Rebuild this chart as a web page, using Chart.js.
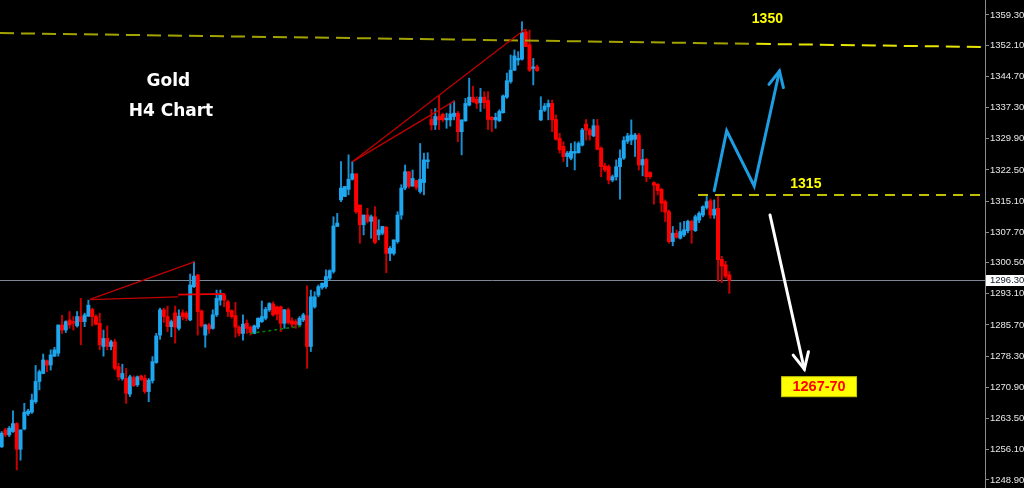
<!DOCTYPE html>
<html><head><meta charset="utf-8">
<script src="https://cdn.jsdelivr.net/npm/chart.js@4.4.1/dist/chart.umd.min.js"></script>
<style>html,body{margin:0;padding:0;background:#000;overflow:hidden}canvas{display:block}</style>
</head><body><canvas id="c" width="1024" height="488"></canvas>
<script>
// ---- Data (H4 Gold candles) ----
const opens=[1256.8,1260.8,1259.6,1260.4,1262.3,1256.2,1261.0,1264.6,1265.0,1267.5,
1272.3,1274.2,1277.2,1276.2,1278.3,1279.0,1285.7,1284.5,1286.9,1286.5,
1285.5,1287.7,1286.5,1287.8,1289.4,1287.7,1286.1,1280.6,1282.5,1280.6,
1281.7,1275.8,1273.0,1273.0,1269.3,1273.2,1271.5,1273.6,1273.0,1269.9,
1272.5,1276.8,1283.3,1289.3,1287.7,1285.3,1288.6,1284.9,1288.6,1288.5,
1286.9,1294.8,1297.6,1289.0,1283.3,1285.7,1284.9,1288.1,1291.6,1292.8,
1291.2,1289.1,1287.9,1285.2,1283.7,1286.1,1285.2,1283.7,1285.2,1286.5,
1287.3,1289.3,1290.7,1290.0,1290.0,1286.1,1289.3,1286.7,1286.5,1285.7,
1286.9,1287.9,1280.6,1290.0,1292.8,1294.6,1294.8,1296.8,1298.4,1309.1,
1315.4,1316.2,1317.9,1320.3,1321.6,1314.2,1309.5,1311.8,1310.3,1311.4,
1307.1,1307.5,1308.9,1302.7,1302.7,1305.5,1311.8,1318.2,1322.1,1318.7,
1320.0,1317.4,1319.5,1324.5,1334.5,1333.2,1335.2,1335.7,1334.4,1334.4,
1335.2,1336.0,1331.6,1334.2,1337.9,1339.8,1339.3,1338.5,1339.8,1339.0,
1335.0,1334.4,1334.2,1336.1,1339.8,1343.5,1346.2,1348.6,1348.8,1355.3,
1352.2,1346.6,1347.0,1334.4,1336.7,1337.5,1338.3,1334.5,1330.0,1328.1,
1325.7,1325.3,1326.5,1326.6,1328.4,1333.4,1332.0,1330.6,1333.0,1327.7,
1323.5,1323.3,1320.1,1320.9,1323.3,1325.3,1329.3,1329.6,1329.8,1330.8,
1323.7,1325.0,1321.9,1319.5,1319.1,1317.9,1315.0,1312.6,1305.5,1307.5,
1306.3,1307.1,1308.1,1310.3,1308.1,1310.6,1311.8,1313.6,1315.2,1311.8,
1313.4,1301.3,1300.0,1297.6];
const highs=[1260.4,1261.2,1261.6,1265.3,1262.5,1260.8,1267.1,1265.7,1269.3,1276.1,
1275.0,1278.8,1277.4,1279.8,1280.4,1285.7,1288.0,1286.7,1288.9,1287.7,
1288.9,1292.0,1288.5,1291.6,1289.7,1288.1,1288.5,1284.5,1285.5,1282.1,
1282.3,1276.6,1276.4,1275.4,1273.8,1273.6,1273.6,1273.8,1273.8,1273.0,
1278.2,1283.7,1289.7,1289.7,1290.2,1286.9,1290.2,1289.3,1289.3,1288.9,
1297.8,1300.7,1297.7,1289.3,1285.9,1286.1,1289.3,1294.0,1294.0,1293.2,
1291.6,1289.3,1291.1,1285.5,1288.1,1286.9,1285.5,1285.7,1287.4,1291.4,
1289.9,1291.0,1291.2,1290.2,1290.2,1289.4,1289.7,1287.4,1287.0,1287.7,
1288.5,1295.0,1294.0,1293.6,1295.2,1295.7,1298.8,1298.8,1311.4,1312.2,
1324.5,1318.6,1326.1,1324.5,1321.6,1314.2,1311.8,1313.4,1311.8,1313.8,
1310.7,1309.1,1309.1,1304.3,1305.9,1312.6,1319.0,1323.7,1322.1,1322.5,
1320.1,1328.8,1326.5,1326.6,1336.9,1337.1,1340.1,1336.0,1336.0,1338.3,
1338.9,1336.4,1334.4,1339.5,1344.3,1342.4,1339.9,1341.9,1341.1,1341.1,
1335.2,1336.0,1336.8,1340.3,1345.5,1349.8,1351.0,1350.6,1357.7,1355.9,
1355.7,1349.0,1347.4,1339.9,1338.3,1339.1,1339.1,1335.6,1331.2,1329.2,
1326.9,1328.8,1329.2,1329.2,1332.4,1334.5,1332.4,1334.5,1334.5,1328.0,
1324.1,1323.7,1321.3,1324.9,1327.3,1330.4,1331.2,1334.4,1331.2,1331.2,
1327.4,1325.3,1322.1,1319.7,1319.3,1318.2,1315.4,1313.0,1309.1,1308.3,
1310.0,1310.3,1310.6,1310.6,1311.8,1312.6,1314.0,1316.2,1315.6,1315.4,
1316.2,1302.0,1300.8,1298.4];
const lows=[1256.6,1259.2,1259.2,1260.2,1251.3,1253.6,1260.8,1264.2,1264.7,1267.1,
1270.3,1274.1,1274.6,1275.0,1278.2,1278.3,1283.7,1283.9,1284.9,1284.5,
1285.2,1281.0,1285.3,1287.7,1285.5,1285.7,1279.8,1278.3,1279.8,1279.8,
1275.0,1272.6,1272.6,1267.1,1268.7,1271.1,1271.1,1272.5,1269.5,1267.5,
1271.9,1276.6,1282.3,1286.3,1284.1,1282.9,1281.4,1284.5,1286.9,1286.7,
1286.7,1294.6,1283.3,1285.2,1280.4,1283.7,1284.7,1287.7,1290.4,1290.0,
1287.7,1287.3,1282.8,1283.1,1282.1,1283.7,1283.3,1283.6,1284.8,1286.3,
1286.9,1288.9,1287.8,1286.9,1284.1,1284.9,1285.9,1285.2,1284.9,1285.5,
1286.5,1275.4,1279.4,1289.7,1292.4,1294.2,1294.4,1296.4,1298.0,1309.1,
1315.0,1316.2,1316.6,1320.1,1312.2,1305.1,1307.1,1309.9,1306.3,1305.0,
1305.9,1307.1,1298.1,1301.0,1302.3,1305.1,1310.8,1317.8,1318.2,1318.6,
1317.8,1317.0,1316.6,1322.9,1332.0,1332.1,1332.1,1334.0,1332.4,1332.9,
1334.4,1329.2,1326.1,1334.0,1337.7,1338.5,1337.1,1336.4,1337.1,1332.1,
1331.6,1332.4,1334.0,1336.0,1339.5,1343.1,1346.1,1347.4,1348.6,1351.8,
1345.9,1342.7,1345.9,1334.2,1336.4,1334.4,1331.6,1329.6,1326.5,1324.5,
1323.3,1324.9,1322.5,1326.5,1328.2,1329.6,1329.6,1330.4,1327.3,1320.9,
1322.1,1319.2,1319.7,1320.1,1315.6,1325.0,1328.8,1328.5,1325.7,1322.5,
1321.1,1319.7,1320.5,1314.4,1316.6,1312.6,1310.2,1305.1,1304.5,1306.3,
1306.1,1306.7,1307.6,1305.1,1307.9,1310.0,1311.4,1313.2,1311.0,1311.0,
1296.0,1295.8,1296.8,1293.2];
const closes=[1260.0,1259.6,1261.2,1262.3,1256.2,1260.8,1265.0,1265.3,1267.9,1272.3,
1274.6,1277.4,1276.2,1278.6,1279.8,1285.7,1284.5,1286.5,1285.7,1286.1,
1287.7,1286.5,1288.1,1290.4,1287.7,1285.9,1281.0,1282.5,1280.6,1281.7,
1275.4,1273.4,1274.2,1269.5,1273.4,1271.3,1273.4,1272.8,1269.9,1272.6,
1277.0,1283.1,1289.3,1287.7,1285.3,1286.5,1285.2,1287.8,1287.7,1287.3,
1295.2,1297.3,1288.9,1285.5,1285.7,1284.7,1288.1,1292.0,1292.8,1291.6,
1288.9,1287.7,1285.2,1283.7,1285.9,1284.9,1283.9,1285.5,1287.3,1287.7,
1289.4,1290.8,1288.1,1288.3,1286.1,1289.3,1286.3,1285.9,1285.9,1287.3,
1288.1,1280.6,1292.4,1292.4,1294.8,1295.6,1297.2,1298.6,1309.2,1309.9,
1318.2,1318.6,1320.3,1321.6,1312.6,1309.5,1311.8,1310.3,1311.4,1305.3,
1308.3,1309.1,1302.7,1303.9,1305.9,1311.8,1318.2,1322.1,1318.6,1320.5,
1318.4,1320.3,1324.9,1324.9,1333.2,1335.2,1334.4,1334.4,1334.8,1335.8,
1336.0,1331.6,1334.4,1338.3,1339.8,1338.7,1338.3,1339.8,1338.5,1334.5,
1334.4,1335.0,1336.4,1340.1,1343.7,1346.2,1349.6,1349.0,1355.1,1351.8,
1346.2,1347.0,1346.1,1336.7,1337.7,1338.3,1334.4,1329.8,1327.3,1325.7,
1326.5,1326.9,1326.9,1328.8,1332.0,1332.0,1330.8,1333.0,1327.4,1323.3,
1322.5,1320.1,1320.9,1323.3,1325.3,1329.5,1330.6,1330.8,1330.8,1323.7,
1325.0,1320.9,1320.9,1318.9,1317.6,1314.6,1312.5,1305.5,1307.5,1306.5,
1307.9,1308.3,1310.3,1308.3,1311.4,1312.2,1313.8,1315.0,1311.8,1313.2,
1301.2,1299.7,1297.3,1296.3];
const priceTicks=[1359.3,1352.1,1344.7,1337.3,1329.9,1322.5,1315.1,1307.7,1300.5,1293.1,1285.7,1278.3,1270.9,1263.5,1256.1,1248.9];
const lastPrice=1296.3;
const yMin=1247.0, yMax=1362.86;
const xMin=-0.45, xMax=260.82;

// drawn objects in (bar index, price)
const topLineOlive=[[-0.45,1355.0],[200.3,1352.45]];
const topLineYellow=[[200.3,1352.45],[260.82,1351.7]];
const line1315=[[184.7,1316.55],[260.82,1316.55]];
const redTrendDark=[[[23.4,1291.8],[51.1,1300.7]],[[23.4,1291.7],[46.8,1292.4]],[[93.1,1324.5],[138.8,1355.9]],[[93.1,1324.5],[120.1,1338.9]]];
const redTrendBright=[[46.8,1292.9],[59.0,1293.1],[59.2,1292.6]];
const greenDashed=[[66.0,1283.7],[79.6,1285.45]];
const blueZigzag=[[189.0,1317.6],[192.3,1331.8],[199.6,1318.7],[206.3,1346.0]];
const whiteArrow=[[203.8,1311.8],[212.9,1275.2]];
const textLabels=[
  {t:'Gold',at:[44.2,1343.6],font:'bold 17px "DejaVu Sans"',color:'#ffffff'},
  {t:'H4 Chart',at:[44.9,1336.3],font:'bold 17px "DejaVu Sans"',color:'#ffffff'},
  {t:'1350',at:[203.1,1358.2],font:'bold 14px "Liberation Sans"',color:'#ffff00'},
  {t:'1315',at:[213.3,1319.05],font:'bold 14px "Liberation Sans"',color:'#ffff00'}
];
const targetBox={t:'1267-70',at:[216.8,1271.05]};

const UP='#1ea6ef', UPW='#1a8fd2', DN='#ff0000', DNW='#c80000';
const isUp=i=>closes[i]>=opens[i];

const overlay={
  id:'overlay',
  beforeDatasetsDraw(chart){
    const {ctx,scales:{x,y},chartArea:a}=chart;
    ctx.save();
    ctx.strokeStyle='#7d8894'; ctx.lineWidth=1;
    const py=Math.round(y.getPixelForValue(lastPrice))+0.5;
    ctx.beginPath(); ctx.moveTo(a.left,py); ctx.lineTo(a.right,py); ctx.stroke();
    ctx.restore();
  },
  afterDatasetsDraw(chart){
    const {ctx,scales:{x,y},chartArea:a}=chart;
    const P=p=>[x.getPixelForValue(p[0]),y.getPixelForValue(p[1])];
    const poly=(pts,color,w,dash)=>{
      ctx.strokeStyle=color; ctx.lineWidth=w; ctx.setLineDash(dash||[]);
      ctx.beginPath(); pts.map(P).forEach((q,i)=>i?ctx.lineTo(q[0],q[1]):ctx.moveTo(q[0],q[1])); ctx.stroke();
      ctx.setLineDash([]);
    };
    const arrow=(pts,color,w,len,spread)=>{
      poly(pts,color,w);
      const q=pts.map(P); const [x1,y1]=q[q.length-2],[x2,y2]=q[q.length-1];
      const ang=Math.atan2(y2-y1,x2-x1);
      ctx.strokeStyle=color; ctx.lineWidth=w; ctx.lineJoin='miter';
      ctx.beginPath();
      ctx.moveTo(x2-len*Math.cos(ang-spread),y2-len*Math.sin(ang-spread));
      ctx.lineTo(x2,y2);
      ctx.lineTo(x2-len*Math.cos(ang+spread),y2-len*Math.sin(ang+spread));
      ctx.stroke();
    };
    ctx.save();
    ctx.beginPath(); ctx.rect(a.left,a.top,a.width,a.height); ctx.clip();
    poly(topLineOlive,'#a3a300',2,[14,7]);
    poly(topLineYellow,'#e6e600',2,[14,7]);
    poly(line1315,'#ffff00',1.5,[10,7]);
    redTrendDark.forEach(l=>poly(l,'#c00000',1.3));
    poly(redTrendBright,'#e80000',1.6);
    poly(greenDashed,'#008000',1.6,[3,3]);
    ctx.lineCap='round';
    arrow(blueZigzag,'#1e9de3',3,17,0.45);
    arrow(whiteArrow,'#ffffff',3,18,0.45);
    ctx.lineCap='butt';
    ctx.textAlign='center'; ctx.textBaseline='middle';
    textLabels.forEach(l=>{const q=P(l.at); ctx.font=l.font; ctx.fillStyle=l.color; ctx.fillText(l.t,q[0],q[1]);});
    const b=P(targetBox.at);
    ctx.fillStyle='#ffff00'; ctx.fillRect(b[0]-37.5,b[1]-10,75,20);
    ctx.strokeStyle='#c8c800'; ctx.lineWidth=1; ctx.strokeRect(b[0]-37.5,b[1]-10,75,20);
    ctx.font='bold 14.5px "Liberation Sans"'; ctx.fillStyle='#ff0000';
    ctx.fillText(targetBox.t,b[0],b[1]+0.5);
    ctx.restore();
  },
  afterDraw(chart){
    const {ctx,scales:{y},chartArea:a}=chart;
    const py=Math.round(y.getPixelForValue(lastPrice));
    ctx.save();
    ctx.fillStyle='#ffffff'; ctx.fillRect(a.right+1,py-5,38,11);
    ctx.font='9.5px "Liberation Sans"'; ctx.fillStyle='#101828'; ctx.textAlign='left'; ctx.textBaseline='middle';
    ctx.fillText(lastPrice.toFixed(2),a.right+5,py+0.5);
    ctx.restore();
  }
};

new Chart(document.getElementById('c'),{
  type:'bar',
  data:{datasets:[
    {label:'wick',data:lows.map((l,i)=>({x:i,y:[l,highs[i]]})),barThickness:1.3,grouped:false,order:2,
     backgroundColor:c=>isUp(c.dataIndex)?UPW:DNW,borderWidth:0},
    {label:'body',data:opens.map((o,i)=>({x:i,y:[o,closes[i]]})),barThickness:3.3,grouped:false,order:1,minBarLength:1,
     backgroundColor:c=>isUp(c.dataIndex)?UP:DN,borderWidth:0}
  ]},
  options:{
    responsive:false,animation:false,
    layout:{padding:0},
    plugins:{legend:{display:false},tooltip:{enabled:false}},
    scales:{
      x:{type:'linear',min:xMin,max:xMax,offset:false,display:false},
      y:{position:'right',min:yMin,max:yMax,
        afterBuildTicks:s=>{s.ticks=priceTicks.map(v=>({value:v}));},
        afterFit:s=>{s.width=39;s.paddingTop=0;s.paddingBottom=0;},
        grid:{drawOnChartArea:false,drawTicks:true,tickLength:4,color:'#8c8c8c'},
        border:{display:true,color:'#8c8c8c',width:1},
        ticks:{autoSkip:false,padding:1,color:'#e8e8e8',font:{family:'"Liberation Sans"',size:9.5},
          callback:v=>Number(v).toFixed(2)}
      }
    }
  },
  plugins:[overlay]
});
</script>
</body></html>
